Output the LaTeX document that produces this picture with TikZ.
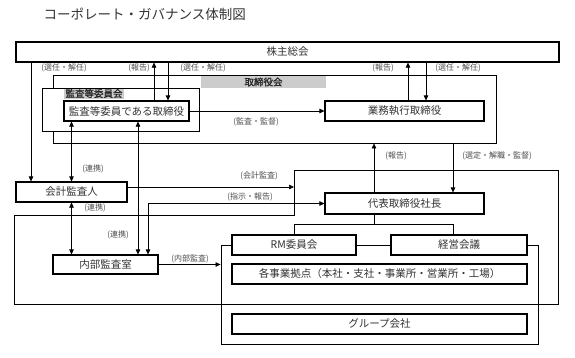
\documentclass[tikz,border=0pt]{standalone}
\usepackage{fontspec}
\newfontfamily\jp{Noto Sans CJK JP}
\newfontfamily\jpbf[FakeBold=1.2]{Noto Sans CJK JP}
\usetikzlibrary{arrows.meta, calc}

\begin{document}
\begin{tikzpicture}[x=1pt, y=-1pt, >={Triangle[length=5pt, width=4.5pt]},
    orgbox/.style={draw, line width=1.1pt, fill=white, inner sep=0pt,
        font=\jp\fontsize{10.5}{12}\selectfont, text=black!80},
    encl/.style={draw, line width=0.9pt, inner sep=0pt},
    grptag/.style={fill=black!20, inner sep=0pt, text=black!85,
        font=\jpbf\fontsize{9.5}{10}\selectfont},
    tag/.style={font=\jp\fontsize{8}{9}\selectfont, text=black!70, inner sep=0pt},
    flow/.style={line width=0.6pt, ->},
    duplex/.style={line width=0.6pt, <->}]

\useasboundingbox (0,0) rectangle (575,357);

% =========================================================
%  Title
% =========================================================
\node[anchor=west, font=\jp\fontsize{13.5}{15}\selectfont, text=black!80]
    (title) at (40,14) {コーポレート・ガバナンス体制図};

% =========================================================
%  Enclosures (drawn first, boxes go on top)
% =========================================================
% Board of directors
\node[encl, minimum width=443pt, minimum height=68pt] (board) at (274.5,109) {};
\node[grptag, minimum width=125pt, minimum height=12pt] (boardtag)
    at (263.5,82) {取締役会};

% Audit & supervisory committee
\node[encl, fill=white, minimum width=157pt, minimum height=43pt] (acm)
    at (120.5,109.5) {};
\node[grptag, minimum width=60pt, minimum height=10pt] (acmtag)
    at (94,93.5) {監査等委員会};

% Operations block (notched outline)
\coordinate (opsnw) at (294,170);
\draw[line width=0.9pt]
    (opsnw) -- (558,170) -- (558,304) -- (14,304) -- (14,215) -- (294,215) -- cycle;

% Group frame
\node[encl, minimum width=317pt, minimum height=99pt] (grp) at (379.5,294.5) {};

% =========================================================
%  Boxes
% =========================================================
\node[orgbox, minimum width=543pt, minimum height=20pt] (sh)  at (287.5,52)  {株主総会};
\node[orgbox, minimum width=125pt, minimum height=20pt] (aud) at (126.5,111) {監査等委員である取締役};
\node[orgbox, minimum width=159pt, minimum height=20pt] (exe) at (404.5,111) {業務執行取締役};
\node[orgbox, minimum width=111pt, minimum height=20pt] (acc) at (71.5,192)  {会計監査人};
\node[orgbox, minimum width=159pt, minimum height=21pt] (ceo) at (404.5,203.5) {代表取締役社長};
\node[orgbox, minimum width=105pt, minimum height=19pt] (iad) at (105.5,264.5) {内部監査室};
\node[orgbox, minimum width=124pt, minimum height=20pt] (rmc) at (294,245)   {RM委員会};
\node[orgbox, minimum width=136pt, minimum height=20pt] (mgt) at (459,245)   {経営会議};
\node[orgbox, minimum width=295pt, minimum height=20pt] (site) at (379.5,274)
    {各事業拠点（本社・支社・事業所・営業所・工場）};
\node[orgbox, minimum width=295pt, minimum height=20pt] (grpco) at (379.5,324) {グループ会社};

% =========================================================
%  Connectors
% =========================================================
% columns for the vertical lines
\coordinate (colA) at (31,0);
\coordinate (colB) at (154,0);
\coordinate (colC) at (168,0);
\coordinate (colD) at (408,0);
\coordinate (colE) at (426,0);
\coordinate (colF) at (374,0);
\coordinate (colG) at (453,0);
\coordinate (colH) at (138,0);
\coordinate (colI) at (148,0);

\draw[flow] (sh.south -| colA) -- (acc.north -| colA);
\draw[flow] (aud.north -| colB) -- (sh.south -| colB);
\draw[flow] (sh.south -| colC) -- (aud.north -| colC);
\draw[flow] (exe.north -| colD) -- (sh.south -| colD);
\draw[flow] (sh.south -| colE) -- (exe.north -| colE);
\draw[flow] (aud.east) -- (exe.west);
\draw[flow] (ceo.north -| colF) -- (board.south -| colF);
\draw[flow] (board.south -| colG) -- (ceo.north -| colG);

\draw[duplex] (aud.south -| acc.north) -- (acc.north);
\draw[duplex] (acc.south) -- (iad.north -| acc.south);
\draw[duplex] (aud.south -| colH) -- (iad.north -| colH);
\draw[duplex] (iad.north -| colI) |- (ceo.west);

\coordinate (accout) at ([yshift=5pt]acc.east);
\draw[flow] (accout) -- (accout -| opsnw);
\draw[flow] (iad.east) -- (iad.east -| grp.west);

% CEO tree
\draw[line width=0.6pt] (ceo.south -| colF) -- ++(0,10) coordinate (fork) -| (rmc.north);
\draw[line width=0.6pt] (fork) -| (mgt.north -| colG);

% =========================================================
%  Labels
% =========================================================
\node[tag] (t-sh-acc)  at (64,68)   {(選任・解任)};
\node[tag] (t-aud-sh)  at (139,68)  {(報告)};
\node[tag] (t-sh-aud)  at (203,68)  {(選任・解任)};
\node[tag] (t-exe-sh)  at (383,68)  {(報告)};
\node[tag] (t-sh-exe)  at (458,68)  {(選任・解任)};
\node[tag] (t-aud-exe) at (256,122) {(監査・監督)};
\node[tag] (t-ceo-bd)  at (396,156) {(報告)};
\node[tag] (t-bd-ceo)  at (497,156) {(選定・解職・監督)};
\node[tag] (t-aud-acc) at (93,169)  {(連携)};
\node[tag] (t-acc-iad) at (95,208)  {(連携)};
\node[tag] (t-aud-iad) at (118,235) {(連携)};
\node[tag] (t-acc-ops) at (259,176) {(会計監査)};
\node[tag] (t-iad-ceo) at (250,197) {(指示・報告)};
\node[tag] (t-iad-grp) at (190,259) {(内部監査)};

\end{tikzpicture}
\end{document}
